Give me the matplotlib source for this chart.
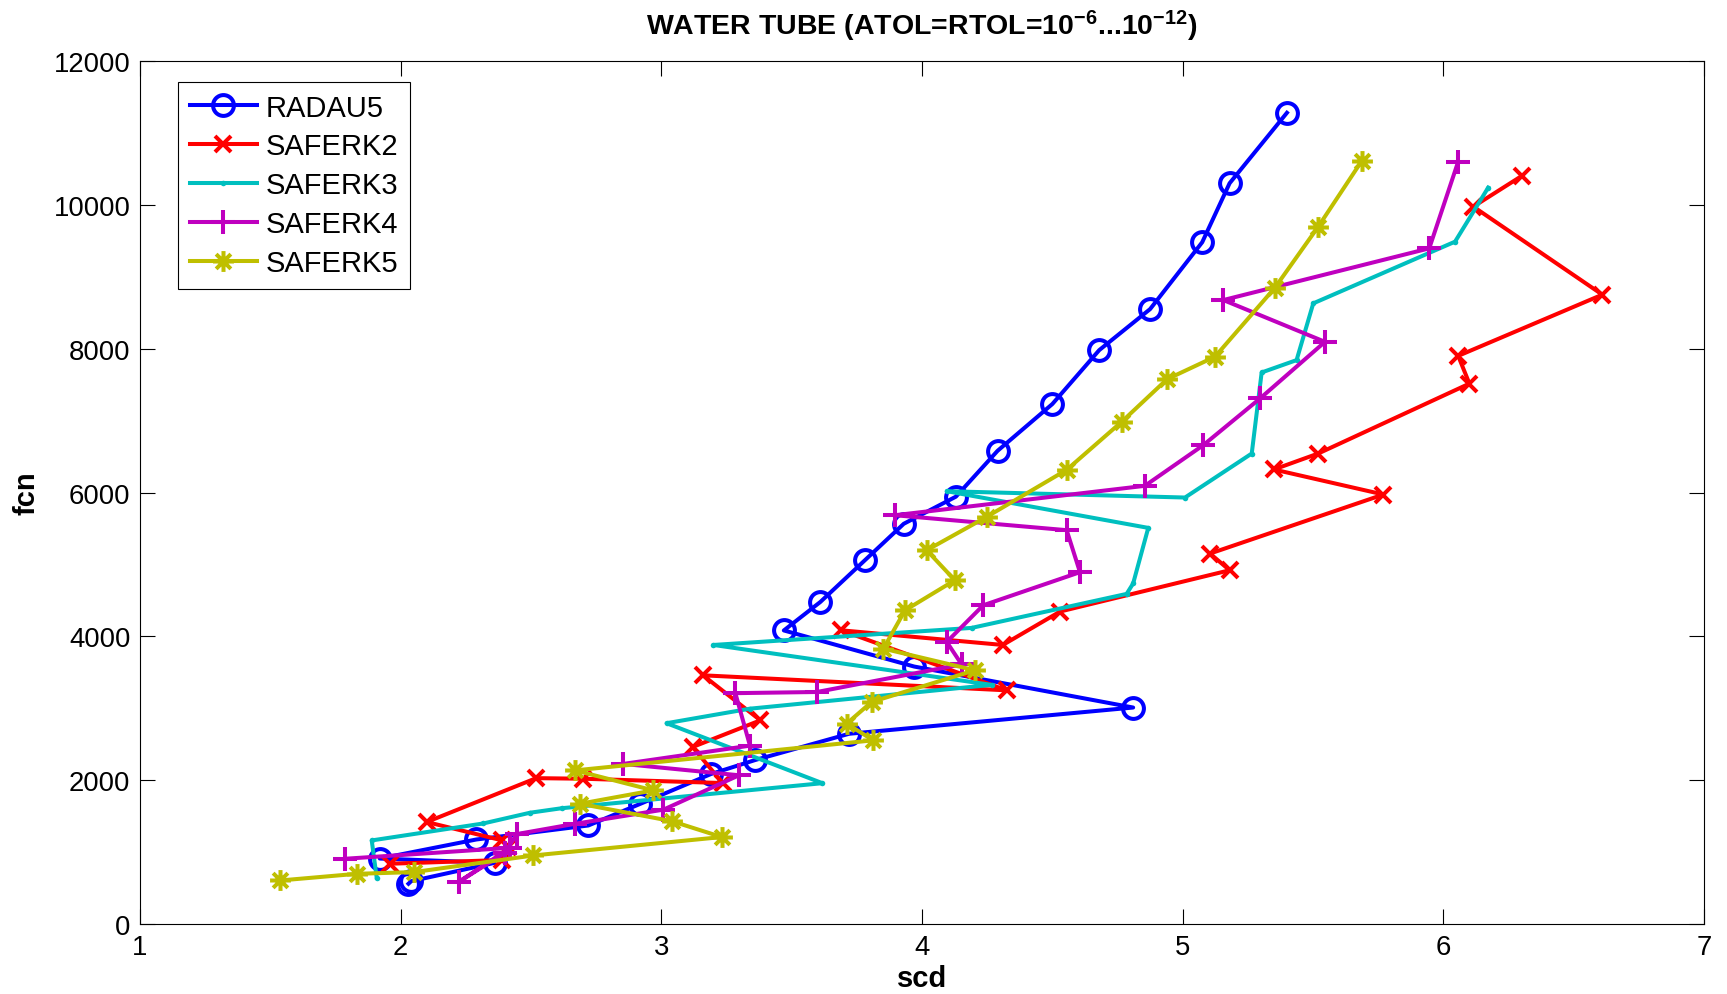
import matplotlib
matplotlib.use("Agg")
import matplotlib.pyplot as plt
from matplotlib.path import Path

plt.rcParams['font.family'] = ['Liberation Sans', 'DejaVu Sans']
plt.rcParams['mathtext.fontset'] = 'custom'
plt.rcParams['mathtext.rm'] = 'Liberation Sans'
plt.rcParams['mathtext.bf'] = 'Liberation Sans:bold'
plt.rcParams['mathtext.default'] = 'bf'

# ---------------- data (scd, fcn) ----------------
radau5_scd = [2.03, 2.04, 2.36, 1.92, 2.29, 2.72, 2.92, 3.19, 3.36, 3.72, 4.81, 3.97,
              3.47, 3.61, 3.78, 3.93, 4.13, 4.29, 4.50, 4.68, 4.875, 5.075, 5.18, 5.40]
radau5_fcn = [560, 595, 850, 910, 1175, 1370, 1672, 2085, 2280, 2645, 3010, 3580,
              4082, 4478, 5055, 5565, 5942, 6580, 7230, 7980, 8550, 9480, 10300, 11280]

saferk2_scd = [1.96, 2.39, 2.41, 2.39, 2.10, 2.52, 2.70, 3.235, 3.12, 3.38, 3.16, 4.325,
               3.69, 4.31, 4.53, 5.18, 5.105, 5.77, 5.35, 5.52, 6.10, 6.057, 6.61, 6.115, 6.30]
saferk2_fcn = [838, 890, 1070, 1162, 1418, 2028, 2020, 1960, 2461, 2832, 3458, 3249,
               4084, 3880, 4345, 4919, 5151, 5972, 6320, 6542, 7514, 7900, 8751, 9975, 10400]

saferk3_scd = [1.908, 1.889, 2.317, 2.496, 2.618, 3.618, 3.02, 3.34, 4.267, 3.20, 4.19,
               4.785, 4.81, 4.868, 4.095, 5.009, 5.265, 5.303, 5.437, 5.501, 6.045, 6.172]
saferk3_fcn = [645, 1162, 1398, 1547, 1610, 1958, 2792, 2994, 3325, 3880, 4117,
               4590, 4735, 5508, 6018, 5930, 6542, 7669, 7841, 8630, 9488, 10239]

saferk4_scd = [1.787, 2.42, 2.222, 2.40, 2.445, 2.67, 3.008, 3.298, 2.854, 3.34, 3.284,
               3.597, 4.152, 4.095, 4.235, 4.606, 4.555, 3.896, 4.855, 5.079, 5.297,
               5.546, 5.156, 5.946, 6.057]
saferk4_fcn = [907, 1060, 583, 990, 1250, 1394, 1590, 2068, 2226, 2480, 3210,
               3226, 3610, 3922, 4432, 4892, 5476, 5684, 6093, 6658, 7308,
               8095, 8676, 9395, 10601]

saferk5_scd = [1.537, 1.832, 2.052, 2.509, 3.232, 3.04, 2.688, 2.969, 2.669, 3.813,
               3.711, 3.807, 4.203, 3.852, 3.935, 4.126, 4.018, 4.248, 4.555, 4.766,
               4.94, 5.124, 5.354, 5.52, 5.687]
saferk5_fcn = [605, 698, 722, 953, 1209, 1430, 1672, 1858, 2136, 2554,
               2786, 3088, 3528, 3829, 4362, 4780, 5197, 5661, 6315, 6983,
               7575, 7888, 8848, 9696, 10610]

labels = ['RADAU5', 'SAFERK2', 'SAFERK3', 'SAFERK4', 'SAFERK5']
x_ticks = [1, 2, 3, 4, 5, 6, 7]
y_ticks = [0, 2000, 4000, 6000, 8000, 10000, 12000]
title_text = r'WATER TUBE (ATOL=RTOL=10$^{-6}$...10$^{-12}$)'

# asterisk marker (MATLAB '*')
d = 0.7071
ast = Path([(-1, 0), (1, 0), (0, -1), (0, 1), (-d, -d), (d, d), (-d, d), (d, -d)],
           [Path.MOVETO, Path.LINETO] * 4)

W, H = 1727, 995
fig = plt.figure(figsize=(W / 100, H / 100), dpi=100)
ax = fig.add_axes([140 / W, 1 - 925 / H, (1704 - 140) / W, (925 - 62) / H])

lw = 2.9
ax.plot(radau5_scd, radau5_fcn, color=(0, 0, 1), lw=lw, marker='o', ms=15,
        mfc='none', mew=2.9, label=labels[0])
ax.plot(saferk2_scd, saferk2_fcn, color=(1, 0, 0), lw=lw, marker='x', ms=12,
        mew=2.9, label=labels[1])
ax.plot(saferk3_scd, saferk3_fcn, color=(0, 0.75, 0.75), lw=lw, marker='o', ms=4,
        mew=0, label=labels[2])
ax.plot(saferk4_scd, saferk4_fcn, color=(0.75, 0, 0.75), lw=lw, marker='+', ms=17,
        mew=2.9, label=labels[3])
ax.plot(saferk5_scd, saferk5_fcn, color=(0.75, 0.75, 0), lw=lw, marker=ast, ms=15,
        mfc='none', mew=2.9, label=labels[4])

ax.set_xlim(1, 7)
ax.set_ylim(0, 12000)
ax.set_xticks(x_ticks)
ax.set_xticklabels([str(v) for v in x_ticks])
ax.set_yticks(y_ticks)
ax.set_yticklabels([str(v) for v in y_ticks])
ax.tick_params(direction='in', length=11, width=0.8, labelsize=19.8, top=True,
               right=True, pad=7)
for s in ax.spines.values():
    s.set_linewidth(0.8)

ax.set_xlabel('scd', fontsize=21, fontweight='bold', labelpad=3)
ax.set_ylabel('fcn', fontsize=21, fontweight='bold', labelpad=9)

fig.text(922 / W, 1 - 26 / H, title_text, fontsize=20.5, fontweight='bold',
         ha='center', va='center')

leg = ax.legend(loc='upper left', bbox_to_anchor=((178 - 140) / 1564, 1 - (83 - 62) / 863),
                borderaxespad=0, fontsize=21, fancybox=False, framealpha=1,
                edgecolor='black', handlelength=2.3, handletextpad=0.3,
                labelspacing=0.37, borderpad=0.4)
leg.get_frame().set_linewidth(0.8)

fig.savefig('out.png', dpi=100)
